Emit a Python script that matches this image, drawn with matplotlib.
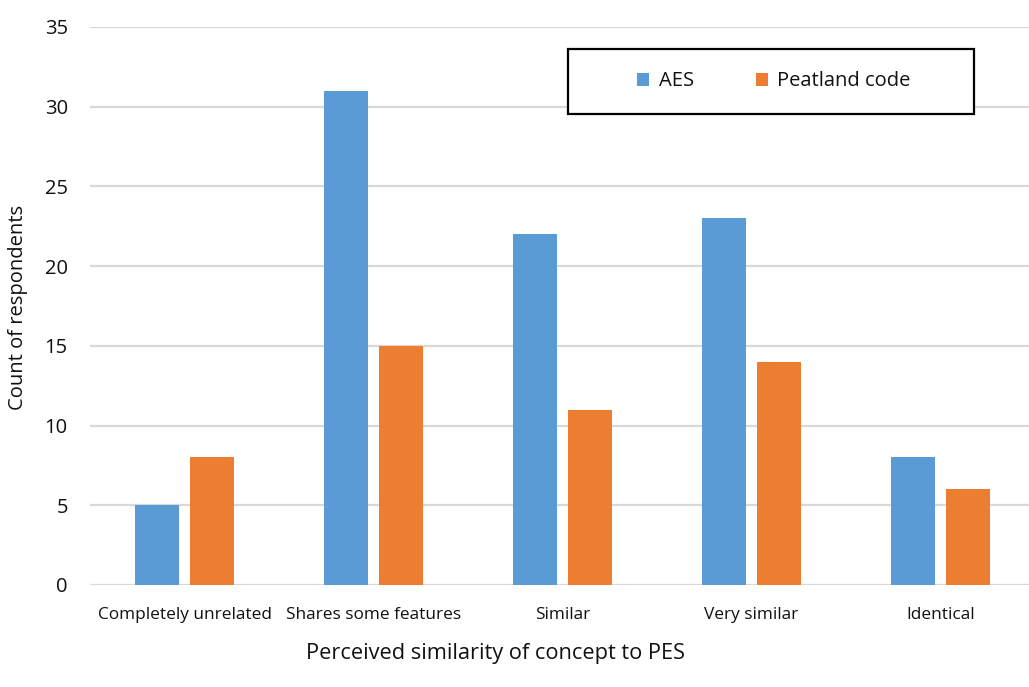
import matplotlib
matplotlib.use("Agg")
import matplotlib.pyplot as plt
import numpy as np
from matplotlib.patches import Patch, Rectangle

categories = ["Completely unrelated", "Shares some features", "Similar", "Very similar", "Identical"]
aes = [5, 31, 22, 23, 8]
peatland = [8, 15, 11, 14, 6]
yticks = [0, 5, 10, 15, 20, 25, 30, 35]

plt.rcParams['font.family'] = ['Open Sans', 'DejaVu Sans']

fig = plt.figure(figsize=(10.29, 6.87), dpi=100)
W, H = 1029, 687
ax = fig.add_axes([90 / W, 1 - 585 / H, (1029 - 90) / W, (585 - 27) / H])

x = np.arange(len(categories))
bw = 0.233
gap = 0.063
blue = "#5B9BD5"
orange = "#ED7D31"
txt = "#111111"
ax.bar(x - (bw + gap) / 2, aes, width=bw, color=blue, zorder=3)
ax.bar(x + (bw + gap) / 2, peatland, width=bw, color=orange, zorder=3)

ax.set_xlim(-0.5, -0.5 + (1029 - 90) / 189)
ax.set_ylim(0, 35)
ax.set_yticks(yticks)
ax.set_yticklabels([str(v) for v in yticks], fontsize=14.5, color=txt)
ax.set_xticks(x)
ax.set_xticklabels(categories, fontsize=12.4, color=txt)
ax.tick_params(axis='both', length=0)
ax.tick_params(axis='y', pad=16)
ax.tick_params(axis='x', pad=16)
ax.grid(axis='y', color="#d9d9d9", linewidth=1.6, zorder=0)
for s in ax.spines.values():
    s.set_visible(False)

fig.text(18 / W, 1 - 307 / H, "Count of respondents", rotation=90, ha='center', va='center',
         fontsize=14.5, color=txt)
fig.text(495 / W, 1 - 653 / H, "Perceived similarity of concept to PES", ha='center', va='center',
         fontsize=15.7, color=txt)

# legend box
fig.patches.append(Rectangle((568 / W, 1 - 114 / H), (974 - 568) / W, (114 - 49) / H,
                             transform=fig.transFigure, facecolor='white', edgecolor='black',
                             linewidth=1.6, zorder=5))
handles = [Patch(facecolor=blue, label="AES"), Patch(facecolor=orange, label="Peatland code")]
leg = fig.legend(handles=handles, loc='center', bbox_to_anchor=(774 / W, 1 - 81.5 / H),
                 ncol=2, frameon=False, fontsize=14.5, handlelength=0.6, handleheight=0.65,
                 handletextpad=0.45, columnspacing=3.1, borderpad=0)
leg.set_zorder(6)
for t in leg.get_texts():
    t.set_color(txt)
fig.savefig("out.png", dpi=100)
